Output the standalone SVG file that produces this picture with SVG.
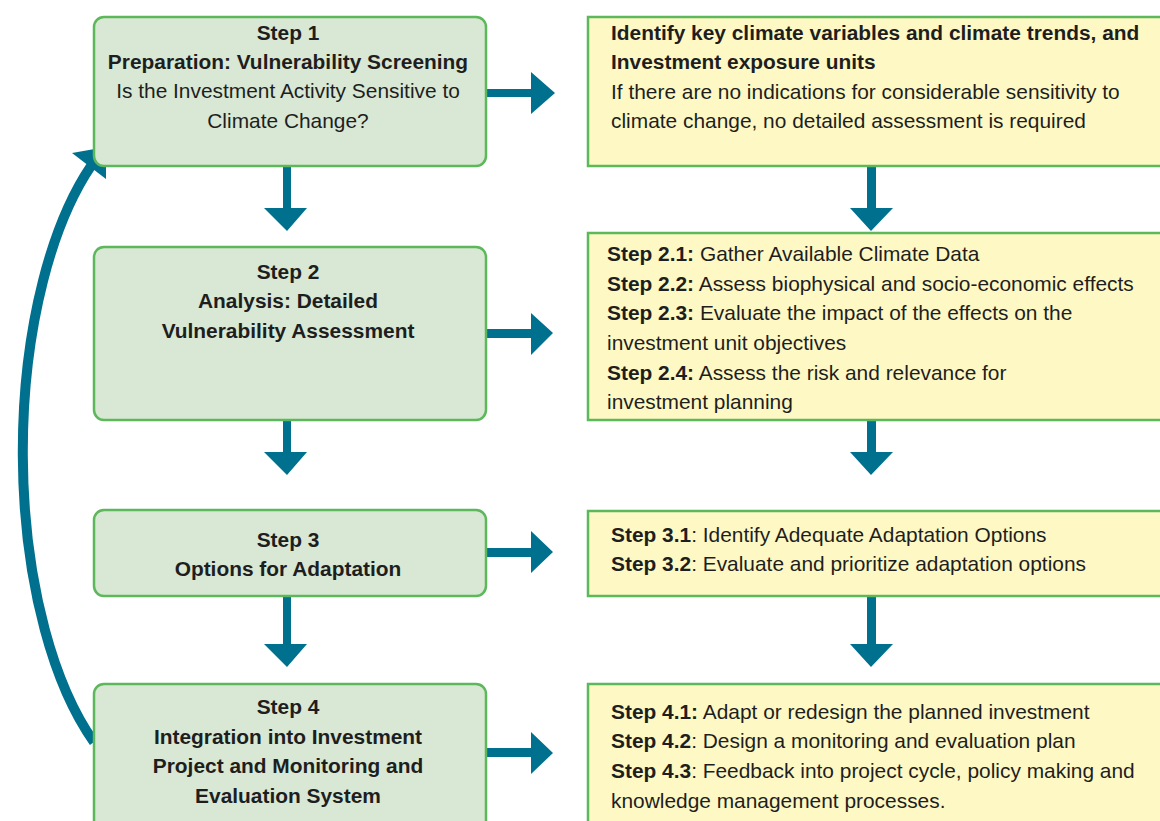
<svg xmlns="http://www.w3.org/2000/svg" width="1160" height="821" viewBox="0 0 1160 821">
<style>
.g{fill:#d8e8d4;stroke:#5cb85a;stroke-width:2.5}
.y{fill:#fef9c4;stroke:#5cb85a;stroke-width:2.5}
.t{font-family:"Liberation Sans",Arial,sans-serif;font-size:20.9px;fill:#1e1e1e}
.c{text-anchor:middle}
.b{font-weight:bold}
.a{fill:#00708f}
</style>
<rect width="1160" height="821" fill="#ffffff"/>
<g id="connectors">
<path d="M94,742 A150 341 0 0 1 91,166" fill="none" stroke="#00708f" stroke-width="10"/>
<polygon class="a" points="106,147 72,153 106,179"/>
<polygon class="a" points="486,89 531,89 531,72 555,93 531,114 531,97 486,97"/>
<polygon class="a" points="486,329 531,329 531,313 553,333 531,355 531,338 486,338"/>
<polygon class="a" points="486,548 531,548 531,531 553,552 531,573 531,557 486,557"/>
<polygon class="a" points="486,748 531,748 531,732 553,753 531,774 531,757 486,757"/>
<polygon class="a" points="283,166 291,166 291,208 307,208 287,231 264,208 283,208"/>
<polygon class="a" points="283,420 291,420 291,452 307,452 287,475 264,452 283,452"/>
<polygon class="a" points="283,596 291,596 291,644 307,644 287,667 264,644 283,644"/>
<polygon class="a" points="867,166 876,166 876,208 893,208 871,231 850,208 867,208"/>
<polygon class="a" points="867,420 876,420 876,452 893,452 871,475 850,452 867,452"/>
<polygon class="a" points="867,596 876,596 876,644 893,644 871,667 850,644 867,644"/>
</g>
<g id="step1">
<rect class="g" x="94" y="17" width="392" height="149" rx="10"/>
<text class="t c b" x="288" y="40">Step 1</text>
<text class="t c b" x="288" y="69">Preparation: Vulnerability Screening</text>
<text class="t c" x="288" y="98">Is the Investment Activity Sensitive to</text>
<text class="t c" x="288" y="128">Climate Change?</text>
</g>
<g id="step1-detail">
<rect class="y" x="588" y="17" width="580" height="149"/>
<text class="t b" x="611" y="40">Identify key climate variables and climate trends, and</text>
<text class="t b" x="611" y="69">Investment exposure units</text>
<text class="t" x="611" y="99">If there are no indications for considerable sensitivity to</text>
<text class="t" x="611" y="128">climate change, no detailed assessment is required</text>
</g>
<g id="step2">
<rect class="g" x="94" y="247" width="392" height="173" rx="10"/>
<text class="t c b" x="288" y="279">Step 2</text>
<text class="t c b" x="288" y="308">Analysis: Detailed</text>
<text class="t c b" x="288" y="338">Vulnerability Assessment</text>
</g>
<g id="step2-detail">
<rect class="y" x="588" y="233" width="580" height="187"/>
<text class="t" x="607" y="261"><tspan class="b">Step 2.1:</tspan> Gather Available Climate Data</text>
<text class="t" x="607" y="291"><tspan class="b">Step 2.2:</tspan> Assess biophysical and socio-economic effects</text>
<text class="t" x="607" y="320"><tspan class="b">Step 2.3:</tspan> Evaluate the impact of the effects on the</text>
<text class="t" x="607" y="350">investment unit objectives</text>
<text class="t" x="607" y="380"><tspan class="b">Step 2.4:</tspan> Assess the risk and relevance for</text>
<text class="t" x="607" y="409">investment planning</text>
</g>
<g id="step3">
<rect class="g" x="94" y="510" width="392" height="86" rx="10"/>
<text class="t c b" x="288" y="547">Step 3</text>
<text class="t c b" x="288" y="576">Options for Adaptation</text>
</g>
<g id="step3-detail">
<rect class="y" x="588" y="511" width="580" height="85"/>
<text class="t" x="611" y="542"><tspan class="b">Step 3.1</tspan>: Identify Adequate Adaptation Options</text>
<text class="t" x="611" y="571"><tspan class="b">Step 3.2</tspan>: Evaluate and prioritize adaptation options</text>
</g>
<g id="step4">
<rect class="g" x="94" y="684" width="392" height="150" rx="10"/>
<text class="t c b" x="288" y="714">Step 4</text>
<text class="t c b" x="288" y="744">Integration into Investment</text>
<text class="t c b" x="288" y="773">Project and Monitoring and</text>
<text class="t c b" x="288" y="803">Evaluation System</text>
</g>
<g id="step4-detail">
<rect class="y" x="588" y="684" width="580" height="150"/>
<text class="t" x="611" y="719"><tspan class="b">Step 4.1:</tspan> Adapt or redesign the planned investment</text>
<text class="t" x="611" y="748"><tspan class="b">Step 4.2</tspan>: Design a monitoring and evaluation plan</text>
<text class="t" x="611" y="778"><tspan class="b">Step 4.3</tspan>: Feedback into project cycle, policy making and</text>
<text class="t" x="611" y="808">knowledge management processes.</text>
</g>
</svg>
